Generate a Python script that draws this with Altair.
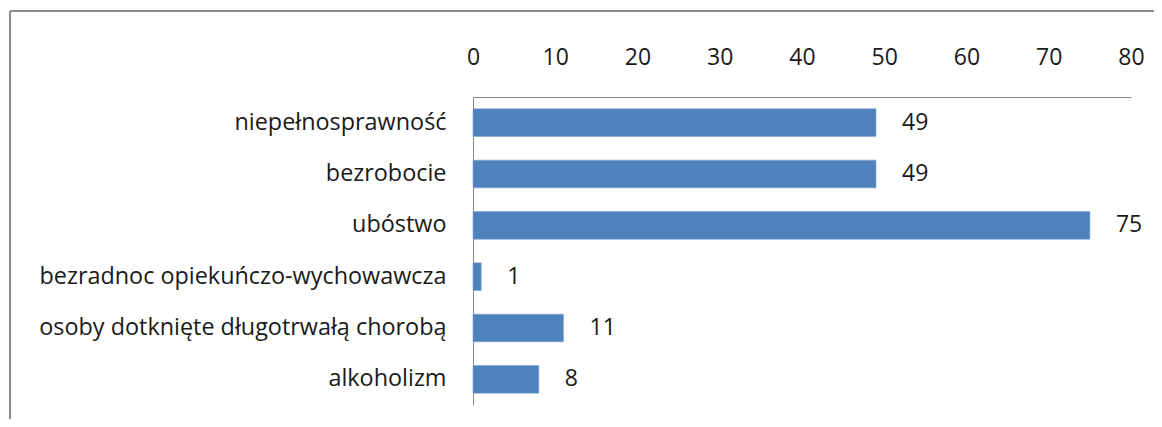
import altair as alt
import pandas as pd

categories = [
    "niepełnosprawność",
    "bezrobocie",
    "ubóstwo",
    "bezradnoc opiekuńczo-wychowawcza",
    "osoby dotknięte długotrwałą chorobą",
    "alkoholizm",
]
values = [49, 49, 75, 1, 11, 8]
x_ticks = [0, 10, 20, 30, 40, 50, 60, 70, 80]

df = pd.DataFrame({"category": categories, "value": values})
frame_df = pd.DataFrame({"k": [0]})

FONT = "Open Sans"
TXT = "#1a1a1a"
AXC = "#8a8a8a"

y_enc = alt.Y(
    "category:N",
    sort=categories,
    scale=alt.Scale(paddingInner=0.46, paddingOuter=0.23),
    axis=alt.Axis(
        title=None, ticks=False, tickSize=0, labelPadding=27,
        labelFontSize=23.4, labelFont=FONT, labelColor=TXT,
        domainColor=AXC, labelLimit=0,
    ),
)
x_enc = alt.X(
    "value:Q",
    scale=alt.Scale(domain=[0, 80], nice=False),
    axis=alt.Axis(
        orient="top", values=x_ticks, title=None, ticks=False, tickSize=0,
        grid=False, labelPadding=28, labelFontSize=23, labelFont=FONT,
        labelColor=TXT, domainColor=AXC, labelFlush=False,
    ),
)

bars = alt.Chart(df).mark_bar(color="#4F81BD", stroke="#7fa3d1", strokeWidth=0.6).encode(
    x=x_enc, y=y_enc
)
labels = alt.Chart(df).mark_text(
    align="left", baseline="middle", dx=26, fontSize=23, font=FONT, color=TXT
).encode(x="value:Q", y=alt.Y("category:N", sort=categories), text="value:Q")

frame_top = alt.Chart(frame_df).mark_rule(color="#8c8c8c", strokeWidth=2).encode(
    x=alt.value(-463), x2=alt.value(720), y=alt.value(-86)
)
frame_left = alt.Chart(frame_df).mark_rule(color="#8c8c8c", strokeWidth=2).encode(
    x=alt.value(-463), y=alt.value(-86), y2=alt.value(330)
)

chart = (
    alt.layer(frame_top, frame_left, bars, labels)
    .properties(
        width=658,
        height=308,
        autosize=alt.AutoSizeParams(type="none"),
        padding={"left": 465, "top": 89, "right": 23, "bottom": 14},
        background="white",
    )
    .configure_view(strokeWidth=0)
)

chart.save("out.html", embed_options={"renderer": "svg", "actions": False})
